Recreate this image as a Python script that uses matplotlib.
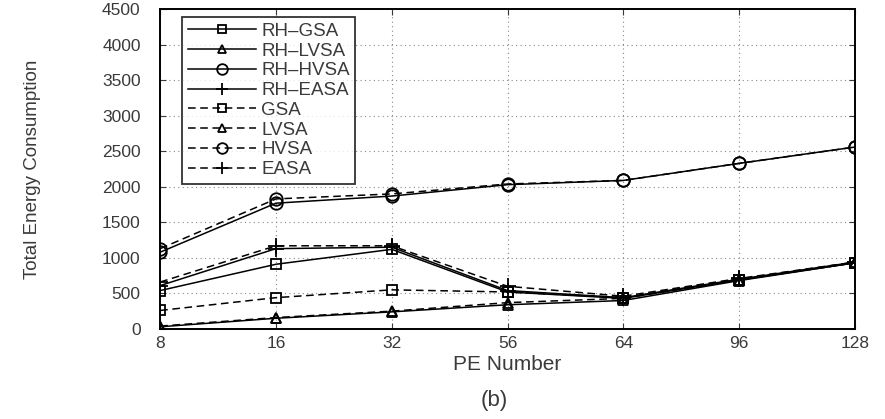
import matplotlib
matplotlib.use("Agg")
import matplotlib.pyplot as plt
import numpy as np

pe_labels = ["8", "16", "32", "56", "64", "96", "128"]

rh_gsa = [540, 910, 1120, 520, 430, 690, 930]
rh_lvsa = [30, 150, 240, 340, 400, 680, 930]
rh_hvsa = [1080, 1770, 1870, 2030, 2090, 2330, 2560]
rh_easa = [610, 1130, 1150, 540, 440, 700, 940]
gsa = [260, 440, 550, 520, 440, 690, 930]
lvsa = [40, 160, 250, 370, 430, 690, 940]
hvsa = [1130, 1830, 1900, 2040, 2090, 2330, 2560]
easa = [660, 1170, 1170, 600, 460, 710, 940]

plt.rcParams["font.family"] = ["Liberation Sans", "DejaVu Sans"]
text_col = "#3a3a3a"

fig = plt.figure(figsize=(8.85, 4.19), dpi=100)
ax = fig.add_axes([0.181, 0.215, 0.785, 0.763])

x = np.arange(len(pe_labels))
series = [
    ("RH\u2013GSA", rh_gsa, "-", "s"),
    ("RH\u2013LVSA", rh_lvsa, "-", "^"),
    ("RH\u2013HVSA", rh_hvsa, "-", "o"),
    ("RH\u2013EASA", rh_easa, "-", "+"),
    ("GSA", gsa, "--", "s"),
    ("LVSA", lvsa, "--", "^"),
    ("HVSA", hvsa, "--", "o"),
    ("EASA", easa, "--", "+"),
]
marker_size = {"s": 7, "^": 7.5, "o": 9, "+": 11}
for name, vals, ls, mk in series:
    ax.plot(x, vals, color="black", linestyle=ls, linewidth=1.1,
            marker=mk, markersize=marker_size[mk], markerfacecolor="none",
            markeredgecolor="black", markeredgewidth=1.3,
            dashes=(5, 3) if ls == "--" else (None, None), label=name)

ax.set_xlim(0, len(pe_labels) - 1)
ax.set_ylim(0, 4500)
ax.set_xticks(x)
ax.set_xticklabels(pe_labels)
ax.set_yticks(np.arange(0, 4501, 500))
ax.tick_params(direction="in", length=4, labelsize=12.5, colors=text_col,
               top=True, right=True)
ax.tick_params(axis="x", pad=5)
ax.tick_params(axis="y", pad=14)
ax.grid(True, linestyle=(0, (1, 3)), color="#888888", linewidth=0.8)
for s in ax.spines.values():
    s.set_linewidth(1.4)

ax.set_xlabel("PE Number", fontsize=15, color=text_col, labelpad=3)
ax.set_ylabel("Total Energy Consumption", fontsize=13.5, color=text_col)
ax.yaxis.set_label_coords(-0.172, 0.5)
fig.text(0.559, 0.043, "(b)", fontsize=16, color=text_col,
         ha="center", va="center")

leg = ax.legend(loc="upper left", bbox_to_anchor=(0.032, 0.975),
                fontsize=13.5, frameon=True, fancybox=False, edgecolor="black",
                handlelength=3.6, handletextpad=0.3, labelspacing=0.14,
                borderpad=0.3, borderaxespad=0, markerscale=0.85)
leg.get_frame().set_linewidth(1.3)
for t in leg.get_texts():
    t.set_color(text_col)

fig.savefig("out.png", dpi=100)
